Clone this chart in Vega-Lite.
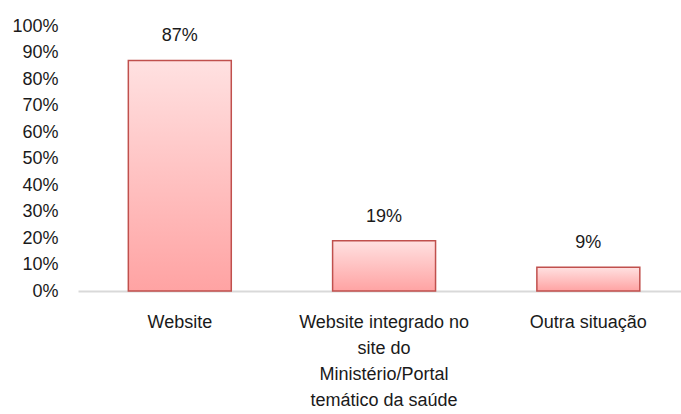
{
  "$schema": "https://vega.github.io/schema/vega-lite/v6.json",
  "autosize": {"type": "none"},
  "padding": {"left": 78, "top": 26, "right": 0, "bottom": 123},
  "width": 603,
  "height": 265,
  "background": "white",
  "config": {
    "view": {"stroke": null},
    "font": "Liberation Sans"
  },
  "data": {
    "values": [
      {"categoria": "Website", "valor": 87},
      {"categoria": "Website integrado no site do Ministério/Portal temático da saúde", "valor": 19},
      {"categoria": "Outra situação", "valor": 9}
    ]
  },
  "encoding": {
    "x": {
      "field": "categoria",
      "type": "nominal",
      "sort": null,
      "scale": {"paddingInner": 0.496, "paddingOuter": 0.224, "align": 0.55},
      "axis": {
        "title": null,
        "labelAngle": 0,
        "ticks": false,
        "domainColor": "#d9d9d9",
        "domainWidth": 2,
        "labelFontSize": 18,
        "labelColor": "#1a1a1a",
        "labelPadding": 31,
        "labelLineHeight": 26,
        "labelBaseline": "middle",
        "labelLimit": 300,
        "labelExpr": "datum.value === 'Website integrado no site do Ministério/Portal temático da saúde' ? ['Website integrado no', 'site do', 'Ministério/Portal', 'temático da saúde'] : datum.label"
      }
    },
    "y": {
      "field": "valor",
      "type": "quantitative",
      "scale": {"domain": [0, 100]},
      "axis": {
        "title": null,
        "values": [0, 10, 20, 30, 40, 50, 60, 70, 80, 90, 100],
        "labelExpr": "datum.value + '%'",
        "grid": false,
        "ticks": false,
        "domain": false,
        "labelFontSize": 18,
        "labelColor": "#1a1a1a",
        "labelPadding": 20
      }
    }
  },
  "layer": [
    {
      "mark": {
        "type": "bar",
        "stroke": "#c0504d",
        "strokeWidth": 1.5,
        "fill": {
          "gradient": "linear",
          "x1": 0, "y1": 0, "x2": 0, "y2": 1,
          "stops": [
            {"offset": 0, "color": "#ffe1e1"},
            {"offset": 1, "color": "#ffa3a3"}
          ]
        }
      }
    },
    {
      "transform": [{"calculate": "datum.valor + '%'", "as": "rotulo"}],
      "mark": {"type": "text", "baseline": "bottom", "dy": -15, "fontSize": 18, "color": "#1a1a1a"},
      "encoding": {
        "text": {"field": "rotulo", "type": "nominal"}
      }
    }
  ]
}
